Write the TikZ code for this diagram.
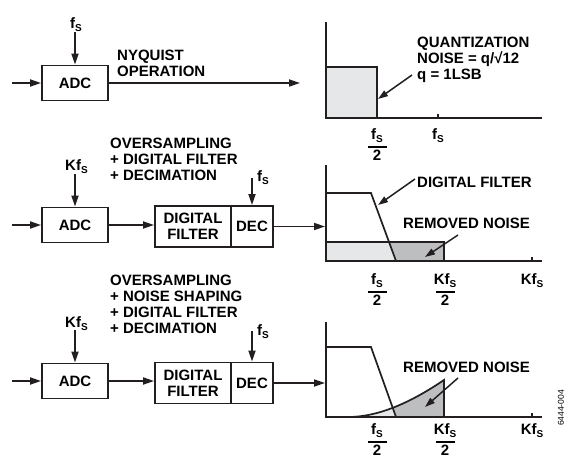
\documentclass[tikz,border=0pt]{standalone}
\usepackage{fontspec}
\setmainfont{Liberation Sans}
\usetikzlibrary{arrows.meta,calc}

\definecolor{ink}{HTML}{231F20}
\definecolor{noiselight}{HTML}{E6E7E8}
\definecolor{noisedark}{HTML}{BCBEC0}

\newcommand{\subS}{\raisebox{-3pt}{\fontsize{10}{10}\selectfont S}}
\newcommand{\halfof}[1]{#1\\[-7pt]\rule{19pt}{2pt}\\[-4pt]2}

\begin{document}
\begin{tikzpicture}[
    x=1pt, y=-1pt,
    font=\fontsize{15}{16}\selectfont\bfseries,
    block/.style={draw=ink, line width=1.9pt, minimum width=66pt, minimum height=35pt, inner sep=0pt},
    filtblock/.style={block, minimum width=76pt, minimum height=41pt, align=center},
    decblock/.style={block, minimum width=42pt, minimum height=41pt},
    clocklabel/.style={inner sep=0pt, anchor=base west},
    note/.style={inner sep=0pt, anchor=north west, align=left},
    freq/.style={inner sep=0pt, anchor=north, align=center},
    signal/.style={-{Triangle[length=11pt, width=7pt]}, line width=1.7pt, draw=ink},
    pointer/.style={-{Triangle[length=10pt, width=6.5pt]}, line width=1.5pt, draw=ink},
    axisline/.style={line width=1.7pt, draw=ink}
]
    \useasboundingbox[fill=white] (0,0) rectangle (567,462);

    % Row 1: Nyquist
    \node[block] (adc1) at (75,83) {ADC};
    \node[clocklabel] (fs1) at (70,29) {f\subS};
    \node[note] (nyq) at (117,50) {NYQUIST\\OPERATION};
    \coordinate (in1) at (12,83);
    \coordinate (out1) at (300,83);

    \draw[signal] (in1) -- (adc1);
    \draw[signal] (fs1.south -| adc1.north) -- (adc1.north);
    \draw[signal] (adc1) -- (out1);

    % Spectrum 1
    \filldraw[axisline, fill=noiselight] (326,67) rectangle (377,118);
    \draw[axisline] (326,22) -- (326,118) -- (542,118);
    \draw[axisline] (438,118) -- (438,114);
    \node[freq] (half1) at (377,128) {\halfof{f\subS}};
    \node[freq] (fs1x) at (438,128) {f\subS};
    \node[note] (qnote) at (417,37) {QUANTIZATION\\NOISE = q/√12\\q = 1LSB};
    \coordinate (qfrom) at (412,75);
    \coordinate (qto) at (378,99);
    \draw[pointer] (qfrom) -- (qto);

    % Row 2: oversampling
    \node[note] (over2) at (110,138) {OVERSAMPLING\\+ DIGITAL FILTER\\+ DECIMATION};
    \node[block] (adc2) at (75,225) {ADC};
    \node[filtblock] (filt2) at (193,226.5) {DIGITAL\\FILTER};
    \node[decblock] (dec2) at (252,226.5) {DEC};
    \node[clocklabel] (kfs2) at (65,171) {Kf\subS};
    \node[clocklabel] (fsd2) at (257,182) {f\subS};
    \coordinate (in2) at (12,225);
    \coordinate (gin2) at (325,226.5);

    \draw[signal] (in2) -- (adc2);
    \draw[signal] (kfs2.south -| adc2.north) -- (adc2.north);
    \draw[signal] (adc2.east) -- (adc2.east -| filt2.west);
    \draw[signal] (fsd2.west -| dec2.north) -- (dec2.north);
    \draw[signal] (dec2.east) -- (gin2);

    % Spectrum 2
    \fill[noiselight] (326,242) -- (389,242) -- (396,261) -- (326,261) -- cycle;
    \fill[noisedark] (389,242) -- (444,242) -- (444,261) -- (396,261) -- cycle;
    \draw[axisline] (326,242) -- (444,242) -- (444,261);
    \draw[axisline] (326,193) -- (371,193) -- (396,261);
    \draw[axisline] (326,165) -- (326,261) -- (542,261);
    \draw[axisline] (532,261) -- (532,257);
    \node[freq] (half2) at (377,273) {\halfof{f\subS}};
    \node[freq] (khalf2) at (445,273) {\halfof{Kf\subS}};
    \node[freq] (kfs2x) at (532,273) {Kf\subS};
    \node[note] (dfnote) at (417,177) {DIGITAL FILTER};
    \node[note] (rn2) at (403,218) {REMOVED NOISE};
    \coordinate (dffrom) at (415,179);
    \coordinate (dfto) at (378,205);
    \coordinate (rn2from) at (458,235);
    \coordinate (rn2to) at (425,257);
    \draw[pointer] (dffrom) -- (dfto);
    \draw[pointer] (rn2from) -- (rn2to);

    % Row 3: oversampling with noise shaping
    \node[note] (over3) at (110,275) {OVERSAMPLING\\+ NOISE SHAPING\\+ DIGITAL FILTER\\+ DECIMATION};
    \node[block] (adc3) at (75,381) {ADC};
    \node[filtblock] (filt3) at (193,383) {DIGITAL\\FILTER};
    \node[decblock] (dec3) at (252,383) {DEC};
    \node[clocklabel] (kfs3) at (65,327) {Kf\subS};
    \node[clocklabel] (fsd3) at (257,335) {f\subS};
    \coordinate (in3) at (12,381);
    \coordinate (gin3) at (325,383);

    \draw[signal] (in3) -- (adc3);
    \draw[signal] (kfs3.south -| adc3.north) -- (adc3.north);
    \draw[signal] (adc3.east) -- (adc3.east -| filt3.west);
    \draw[signal] (fsd3.west -| dec3.north) -- (dec3.north);
    \draw[signal] (dec3.east) -- (gin3);

    % Spectrum 3
    \fill[noiselight] (348,417) .. controls (378,417) and (410,403) .. (444,380) -- (444,417) -- cycle;
    \begin{scope}
        \clip (371,347) -- (398.1,423) -- (450,423) -- (450,340) -- (371,340) -- cycle;
        \fill[noisedark] (348,417) .. controls (378,417) and (410,403) .. (444,380) -- (444,417) -- cycle;
    \end{scope}
    \draw[axisline] (348,417) .. controls (378,417) and (410,403) .. (444,380) -- (444,417);
    \draw[axisline] (326,347) -- (371,347) -- (396,417);
    \draw[axisline] (326,322) -- (326,417) -- (542,417);
    \draw[axisline] (532,417) -- (532,413);
    \node[freq] (half3) at (377,423) {\halfof{f\subS}};
    \node[freq] (khalf3) at (445,423) {\halfof{Kf\subS}};
    \node[freq] (kfs3x) at (532,423) {Kf\subS};
    \node[note] (rn3) at (403,362) {REMOVED NOISE};
    \coordinate (rn3from) at (458,378);
    \coordinate (rn3to) at (425,407);
    \draw[pointer] (rn3from) -- (rn3to);

    \node[rotate=90, inner sep=0pt, font=\fontsize{8.5}{8.5}\selectfont] (figno) at (561,408) {6444-004};
\end{tikzpicture}
\end{document}
